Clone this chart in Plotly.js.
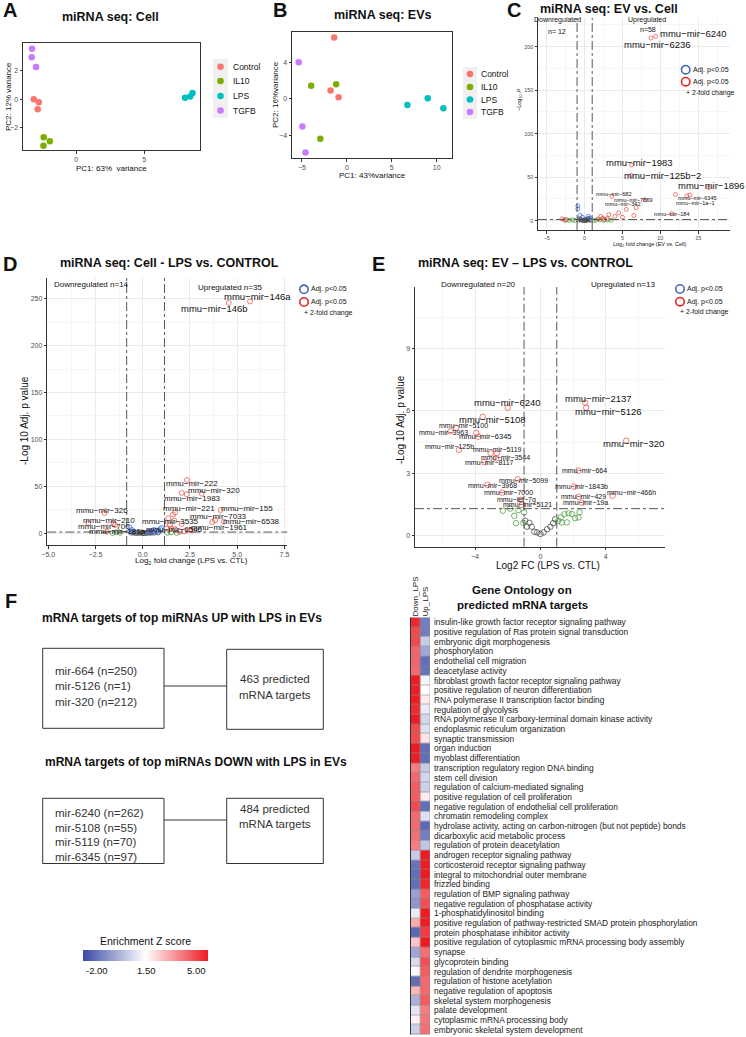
<!DOCTYPE html>
<html><head><meta charset="utf-8">
<script src="https://cdn.plot.ly/plotly-3.0.1.min.js"></script>
<style>html,body{margin:0;padding:0;background:#fff}#chart{width:746px;height:1037px}</style>
</head><body><div id="chart"></div>
<script>
// ================= DATA =================
// PCA panel A (cells)
const pcaGroupNames = ['Control','IL10','LPS','TGFB'];
const cellGroup = ['Control','Control','Control','IL10','IL10','IL10','LPS','LPS','LPS','TGFB','TGFB','TGFB'];
const cellPC1   = [-3.11,-2.74,-2.82,-2.38,-1.93,-2.40, 8.00, 8.38, 8.55,-3.24,-3.26,-2.94];
const cellPC2   = [ 0.00,-0.21,-0.70,-2.68,-2.96,-3.27, 0.10, 0.20, 0.45, 3.56, 2.96, 2.27];
// PCA panel B (EVs)
const evGroup = ['Control','Control','Control','IL10','IL10','IL10','LPS','LPS','LPS','TGFB','TGFB','TGFB'];
const evPC1   = [-1.41,-1.81,-0.92,-3.97,-1.19,-2.95, 6.74, 9.00,10.74,-5.35,-4.95,-4.60];
const evPC2   = [ 6.70, 0.88, 0.15, 1.40, 1.58,-4.40,-0.69, 0.04,-1.06, 4.00,-3.05,-5.90];

// Volcano C: EV vs Cell
const cFC  = [9.37,8.75,6.2,6.15,16.4,13.9,13.5,12.0,3.6,8.0,5.5,11.5, 6.8,3.2,4.0,2.4,6.5,1.8,2.6,-3.0,-2.4,-2.7,3.0,5.0,4.5,2.1,
              -0.9,-0.9,-0.6,0.5,-0.3,0.7,
              -2.0,-1.6,1.5,2.0,2.5,-1.3,3.0,1.2,-2.5,3.5,
              -0.8,-0.5,-0.2,0,0.3,0.6,0.8,-0.4,0.1,-0.7,0.5,0.2,-0.1,0.4];
const cLogP = [212,210,64,52,38,29.5,28.5,30,28,24,13,8, 15,7,5,3,6,2,1.5,2.2,1.4,1.0,2.5,4,9,5,
              17,13.5,6,5,4,3,
              0.5,0.8,0.6,0.9,0.4,0.3,0.7,0.5,0.3,0.5,
              0.5,1.2,0.3,0.1,0.6,1.0,0.4,0.8,1.5,2,2.5,0.2,0.7,1.8];
const cCat = ['PFC','PFC','PFC','PFC','PFC','PFC','PFC','PFC','PFC','PFC','PFC','PFC','PFC','PFC','PFC','PFC','PFC','PFC','PFC','PFC','PFC','PFC','PFC','PFC','PFC','PFC',
              'P','P','P','P','P','P',
              'FC','FC','FC','FC','FC','FC','FC','FC','FC','FC',
              'NS','NS','NS','NS','NS','NS','NS','NS','NS','NS','NS','NS','NS','NS'];
const cLabel = ['mmu−mir−6240','mmu−mir−6236','mmu−mir−1983','mmu−mir−125b−2','mmu−mir−1896','mmu−mir−6345','','mmu−mir−1a−1','mmu−mir−682','mmu−mir−7869','mmu−mir−342','mmu−mir−184'];

// Volcano D: Cell LPS vs CONTROL
const dFC = [5.68,4.55,2.34,3.12,2.06,2.33,1.71,4.13,3.83,3.68,4.3,-2.03,-1.55,-1.47,-2.88,1.35,2.6,1.5,-1.9,
             1.44,1.67,2.06,1.27,1.71,1.97,2.5,1.6,2.2,
             -0.71,-0.58,0.92,0.74,0.5,0.3,0.85,-0.65,0.6,-0.5,1.0,0.4,
             -1.2,-1.4,1.3,1.5,-1.6,1.8,
             -0.3,0,0.3,-0.5,0.5,0.2,-0.1,-0.2,0.4,0.1,-0.4,0.6,0.0,-0.6,0.8];
const dLogP = [247,245.5,56.8,42.2,43,41.6,22,24.8,14,12,12.4,21.6,10.7,8.8,10.7,16,3.0,5,1.7,
             8.8,13.4,9.9,5.3,4.3,1.7,3.5,20,2,
             6.4,3.5,4.3,2.8,2.0,1.5,1.6,2.2,3.5,1.8,5.5,1.6,
             0.6,1.0,0.5,0.9,0.3,0.4,
             0.5,0.2,0.8,0.9,1.1,0.3,1.0,0.2,0.4,0.1,0.3,0.6,0.6,0.6,0.9];
const dCat = ['PFC','PFC','PFC','PFC','PFC','PFC','PFC','PFC','PFC','PFC','PFC','PFC','PFC','PFC','PFC','PFC','PFC','PFC','PFC',
             'PFC','PFC','PFC','PFC','PFC','PFC','PFC','PFC','PFC',
             'P','P','P','P','P','P','P','P','P','P','P','P',
             'FC','FC','FC','FC','FC','FC',
             'NS','NS','NS','NS','NS','NS','NS','NS','NS','NS','NS','NS','NS','NS','NS'];
const dLabel = ['mmu−mir−146a','mmu−mir−146b','mmu−mir−222','mmu−mir−320','mmu−mir−1983','','mmu−mir−221','mmu−mir−155','mmu−mir−7033','','mmu−mir−6538','mmu−mir−326','mmu−mir−210','','mmu−mir−700','mmu−mir−3535','mmu−mir−1961','mmu−mir−6546','mmu−mir−181a'];

// Volcano E: EV LPS vs CONTROL
const eFC = [-2.0,-3.53,-5.16,-5.5,-3.92,-3.8,-4.98,-3.04,-2.67,-2.71,-3.43,2.33,-1.38,-3.24,2.06,-2.33,4.41,2.33,-1.2,2.53,-1.14,2.74,2.8,5.25,
             -2.3,-1.6,-1.49,-1.04,-1.0,-1.85,-1.35,1.1,1.31,1.62,1.25,1.72,1.92,2.12,2.33,2.39,1.47,
             -0.67,-0.53,-0.37,-0.2,0,0.2,0.41,0.61,0.78,0.9,-0.83,-0.94];
const eLogP = [6.15,5.72,5.19,5.02,4.94,4.76,4.13,3.96,3.96,3.72,3.53,3.13,2.71,2.44,2.36,2.07,1.92,1.87,1.72,1.59,1.48,6.4,6.15,4.57,
             1.2,0.96,0.6,0.62,1.12,1.3,1.23,0.72,0.63,0.64,0.88,1.08,1.04,0.84,0.88,1.12,1.03,
             0.62,0.43,0.19,0.16,0.08,0.16,0.31,0.43,0.6,0.79,0.43,0.72];
const eCat = ['PFC','PFC','PFC','PFC','PFC','PFC','PFC','PFC','PFC','PFC','PFC','PFC','PFC','PFC','PFC','PFC','PFC','PFC','PFC','PFC','PFC','PFC','PFC','PFC',
             'FC','FC','FC','FC','FC','FC','FC','FC','FC','FC','FC','FC','FC','FC','FC','FC','FC',
             'NS','NS','NS','NS','NS','NS','NS','NS','NS','NS','NS','NS'];
const eLabel = ['mmu−mir−6240','mmu−mir−5108','mmu−mir−5100','mmu−mir−3963','mmu−mir−6345','','mmu−mir−125b','mmu−mir−5119','','mmu−mir−3544','mmu−mir−8117','mmu−mir−664','mmu−mir−5099','mmu−mir−3968','mmu−mir−1843b','mmu−mir−7000','mmu−mir−466h','mmu−mir−429','mmu−let−7g','mmu−mir−19a','mmu−mir−5121','mmu−mir−2137','mmu−mir−5126','mmu−mir−320'];

const volcanoCounts = {cDown:12, cUp:58, dDown:14, dUp:35, eDown:20, eUp:13};
const fcCutC = [-1, 1], fcCutD = [-0.85, 1.15], fcCutE = [-1, 1], pCut = 1.3;

// Panel F boxes
const upMirs = ['mir-664 (n=250)','mir-5126 (n=1)','mir-320 (n=212)'];
const upTargets = 463;
const downMirs = ['mir-6240 (n=262)','mir-5108 (n=55)','mir-5119 (n=70)','mir-6345 (n=97)'];
const downTargets = 484;

// Heatmap
const goColumns = ['Down_LPS','Up_LPS'];
const goTerms = ['insulin-like growth factor receptor signaling pathway','positive regulation of Ras protein signal transduction','embryonic digit morphogenesis','phosphorylation','endothelial cell migration','deacetylase activity','fibroblast growth factor receptor signaling pathway','positive regulation of neuron differentiation','RNA polymerase II transcription factor binding','regulation of glycolysis','RNA polymerase II carboxy-terminal domain kinase activity','endoplasmic reticulum organization','synaptic transmission','organ induction','myoblast differentiation','transcription regulatory region DNA binding','stem cell division','regulation of calcium-mediated signaling','positive regulation of cell proliferation','negative regulation of endothelial cell proliferation','chromatin remodeling complex','hydrolase activity, acting on carbon-nitrogen (but not peptide) bonds','dicarboxylic acid metabolic process','regulation of protein deacetylation','androgen receptor signaling pathway','corticosteroid receptor signaling pathway','integral to mitochondrial outer membrane','frizzled binding','regulation of BMP signaling pathway','negative regulation of phosphatase activity','1-phosphatidylinositol binding','positive regulation of pathway-restricted SMAD protein phosphorylation','protein phosphatase inhibitor activity','positive regulation of cytoplasmic mRNA processing body assembly','synapse','glycoprotein binding','regulation of dendrite morphogenesis','regulation of histone acetylation','negative regulation of apoptosis','skeletal system morphogenesis','palate development','cytoplasmic mRNA processing body','embryonic skeletal system development'];
const goDown = [4.8,4.3,4.3,3.9,3.9,3.8,5.0,5.0,5.0,4.8,5.0,4.3,4.3,5.0,5.0,3.5,3.8,4.0,4.0,4.3,3.8,3.8,3.7,3.5,0.5,-1.2,-1.3,-1.3,-0.3,-0.5,1.1,2.8,-1.4,2.4,-0.2,0.8,1.4,-1.3,2.6,0.0,1.0,1.7,0.6];
const goUp   = [-1.0,-1.0,0.5,-0.2,-1.3,-1.2,1.3,1.5,1.8,1.1,0.7,0.9,1.9,-1.3,-1.3,0.5,0.7,0.6,1.8,-1.3,0.9,-1.4,-1.0,0.4,5.0,5.0,5.0,4.8,4.0,4.2,5.0,5.0,4.5,5.0,3.7,4.2,4.0,3.8,3.8,4.0,3.5,3.6,3.7];
const zTickVals = [-2.0, 1.5, 5.0];

// ================= LAYOUT HELPERS =================
const W = 746, H = 1037;
const px = v => v / W;
const py = v => 1 - v / H;
const FONT = 'Liberation Sans, Arial, sans-serif';
const shapes = [], annotations = [], traces = [];

function txt(x, y, text, size, opt) {
  opt = opt || {};
  annotations.push(Object.assign({
    xref: 'paper', yref: 'paper', x: px(x), y: py(y), text: text, showarrow: false,
    xanchor: 'center', yanchor: 'middle', font: {family: FONT, size: size, color: opt.color || '#111'}
  }, opt.extra || {}));
}
function rect(x0, y0, x1, y1, line, fill, layer) {
  shapes.push({type: 'rect', xref: 'paper', yref: 'paper', x0: px(x0), x1: px(x1), y0: py(y1), y1: py(y0),
    line: line || {color: '#333', width: 1}, fillcolor: fill || 'rgba(0,0,0,0)', layer: layer || 'above'});
}
function circ(cx, cy, r, color, width, fill) {
  shapes.push({type: 'circle', xref: 'paper', yref: 'paper', x0: px(cx - r), x1: px(cx + r), y0: py(cy + r), y1: py(cy - r),
    line: {color: color, width: width}, fillcolor: fill || 'rgba(0,0,0,0)'});
}
function hline(x0, x1, y, color, width) {
  shapes.push({type: 'line', xref: 'paper', yref: 'paper', x0: px(x0), x1: px(x1), y0: py(y), y1: py(y), line: {color: color, width: width}});
}

// ================= PCA PANELS =================
const groupColors = ['#F8766D','#7CAE00','#00BFC4','#C77CFF'];
function pcaTraces(groups, pc1, pc2, xa, ya) {
  pcaGroupNames.forEach((g, gi) => {
    const idx = groups.map((v, i) => v === g ? i : -1).filter(i => i >= 0);
    traces.push({type: 'scatter', mode: 'markers', xaxis: xa, yaxis: ya, showlegend: false,
      x: idx.map(i => pc1[i]), y: idx.map(i => pc2[i]),
      marker: {color: groupColors[gi], size: 6.5}});
  });
}
pcaTraces(cellGroup, cellPC1, cellPC2, 'x', 'y');
pcaTraces(evGroup, evPC1, evPC2, 'x2', 'y2');

function pcaLegend(keyX, textX, ys, bg) {
  rect(bg[0], bg[1], bg[2], bg[3], {width: 0}, '#F0F0F0', 'below');
  pcaGroupNames.forEach((g, i) => {
    circ(keyX, ys[i], 3.3, groupColors[i], 0, groupColors[i]);
    txt(textX, ys[i], g, 8.5, {extra: {xanchor: 'left'}});
  });
}
pcaLegend(220.5, 230.5, [66.7, 81, 96, 110.5], [213, 59, 228, 118]);
pcaLegend(470, 478.5, [74, 87, 99.5, 112], [463, 67, 477, 119]);

// ================= VOLCANO =================
const catStyle = {
  NS:  'rgba(70,70,70,0.75)',
  FC:  'rgba(60,150,50,0.7)',
  P:   'rgba(65,105,225,0.75)',
  PFC: 'rgba(235,40,30,0.6)'
};
function volcano(fc, lp, cat, xa, ya, size) {
  ['NS','FC','P','PFC'].forEach(c => {
    const idx = cat.map((v, i) => v === c ? i : -1).filter(i => i >= 0);
    traces.push({type: 'scatter', mode: 'markers', xaxis: xa, yaxis: ya, showlegend: false,
      x: idx.map(i => fc[i]), y: idx.map(i => lp[i]),
      marker: {symbol: 'circle-open', size: size, color: catStyle[c], line: {width: 1}}});
  });
}
volcano(cFC, cLogP, cCat, 'x3', 'y3', 4);
volcano(dFC, dLogP, dCat, 'x4', 'y4', 5);
volcano(eFC, eLogP, eCat, 'x5', 'y5', 5.5);

// label placement (pixel shifts, font size)
const cLabPos = [[38,3,9.5],[7,-6,9.5],[8,3,9.5],[31,0,9.5],[3,2,9.5],[8,-3,5.5],null,[20,-8,5.5],[2,2,5.5],[-12,0,5.5],[-4,5,5.5],[0,0,5.5]];
const dLabPos = [[7,5,9.5],[-14,-6,9.5],[5,-4,8],[12,3,8],[11,-6,8],null,[14,4,8],[26,1,8],[3.5,4,8],null,[28,0,8],[-2,3,8],[-4,3,8],null,[16,-3,8],[2,-3,8],[28,3,8],[3,-1,8],[11,0,8]];
const eLabPos = [[0,5,9.5],[10,-3,9.5],[7,2,7],[-7,-1,7],[9.5,-4,7.5],null,[-9,3,7],[7,4,7],null,[9,1,7],[5,0,7],[6,0,7],[6,-1,7],[5.5,-1,7],[7,0,7],[6,0,7],[19,3,7],[5,0,7],[-4,0,7],[4,0,7],[6,0,7],[13,4,9.5],[22,-4,9.5],[7.5,-3,9.5]];
function labels(fc, lp, labs, pos, xa, ya) {
  labs.forEach((l, i) => {
    if (!l || !pos[i]) return;
    annotations.push({xref: xa, yref: ya, x: fc[i], y: lp[i], text: l, showarrow: false,
      xshift: pos[i][0], yshift: pos[i][1], font: {family: FONT, size: pos[i][2], color: '#111'}});
  });
}
labels(cFC, cLogP, cLabel, cLabPos, 'x3', 'y3');
labels(dFC, dLogP, dLabel, dLabPos, 'x4', 'y4');
labels(eFC, eLogP, eLabel, eLabPos, 'x5', 'y5');

function cutLines(xa, ya, fcs) {
  fcs.forEach(v => shapes.push({type: 'line', xref: xa, yref: ya + ' domain', x0: v, x1: v, y0: 0, y1: 1,
    line: {color: '#444', width: 0.9, dash: 'dashdot'}}));
  shapes.push({type: 'line', xref: xa + ' domain', yref: ya, x0: 0, x1: 1, y0: pCut, y1: pCut,
    line: {color: '#444', width: 0.9, dash: 'dashdot'}});
}
cutLines('x3', 'y3', fcCutC);
cutLines('x4', 'y4', fcCutD);
cutLines('x5', 'y5', fcCutE);

function sigLegend(cx, y1, y2, y3, tx, fs) {
  circ(cx, y1, 4.2, '#4466BB', 1.6);
  circ(cx, y2, 4.2, '#E82222', 1.6);
  txt(tx, y1, 'Adj. p<0.05', fs, {extra: {xanchor: 'left'}});
  txt(tx, y2, 'Adj. p<0.05', fs, {extra: {xanchor: 'left'}});
  txt(cx - 2, y3, '+ 2-fold change', fs, {extra: {xanchor: 'left'}});
}
sigLegend(685.7, 69.7, 81.7, 92.7, 690.5, 7);
sigLegend(304, 289.3, 302, 313.5, 308.5, 7);
sigLegend(680, 289, 301.7, 312.5, 684.5, 7);

// region labels
txt(557, 20, 'Downregulated', 7);
txt(557, 32, 'n= ' + volcanoCounts.cDown, 7);
txt(647, 20, 'Upregulated', 7);
txt(648, 30, 'n=' + volcanoCounts.cUp, 7);
txt(91.5, 284, 'Downregulated n=' + volcanoCounts.dDown, 8);
txt(230, 287.3, 'Upregulated n=' + volcanoCounts.dUp, 8);
txt(478.5, 284, 'Downregulated n=' + volcanoCounts.eDown, 8);
txt(622.5, 284, 'Upregulated n=' + volcanoCounts.eUp, 8);

// ================= TITLES, LETTERS, AXIS TITLES =================
const bold = s => '<b>' + s + '</b>';
txt(10, 10, bold('A'), 20);
txt(279.5, 10, bold('B'), 20);
txt(513.5, 9.5, bold('C'), 20);
txt(10, 264, bold('D'), 20);
txt(378, 264, bold('E'), 20);
txt(11, 601, bold('F'), 20);
txt(111, 17, bold('miRNA seq: Cell'), 12.5);
txt(383, 15, bold('miRNA seq: EVs'), 12.5);
txt(609, 8.5, bold('miRNA seq: EV vs. Cell'), 12.5);
txt(169, 262.7, bold('miRNA seq: Cell - LPS vs. CONTROL'), 12.5);
txt(525, 263.3, bold('miRNA seq: EV – LPS vs. CONTROL'), 12.5);

txt(112, 168, 'PC1: 63%  variance', 8);
txt(8, 97, 'PC2: 12% variance', 8, {extra: {textangle: -90}});
txt(372, 175.5, 'PC1: 43%variance', 8);
txt(275, 95, 'PC2: 16%variance', 8, {extra: {textangle: -90}});
txt(650, 244, 'Log<sub>2</sub> fold change (EV vs. Cell)', 5.5);
txt(519, 100, '−Log<sub>10</sub> <i>P</i>', 5.5, {extra: {textangle: -90}});
txt(191.7, 560.7, 'Log<sub>2</sub> fold change (LPS vs. CTL)', 8);
txt(24, 421, '-Log 10 Adj. p value', 10, {extra: {textangle: -90}});
txt(548.3, 565, 'Log2 FC (LPS vs. CTL)', 10);
txt(400, 420, '-Log 10 Adj. p value', 10, {extra: {textangle: -90}});

// ================= PANEL F =================
txt(40, 618, bold('mRNA targets of top miRNAs UP with LPS in EVs'), 12, {extra: {xanchor: 'left'}});
txt(43, 761.7, bold('mRNA targets of top miRNAs DOWN with LPS in EVs'), 12, {extra: {xanchor: 'left'}});
// boxes (upper)
rect(42.7, 648.3, 164, 728.3);
rect(226.7, 649.3, 323.3, 729.3);
hline(164, 226.7, 686, '#333', 1);
upMirs.forEach((m, i) => txt(53.3, 671 + i * 15.3, m, 11.5, {color: '#333', extra: {xanchor: 'left'}}));
txt(275, 679.3, upTargets + ' predicted', 11.5, {color: '#333'});
txt(275, 695, 'mRNA targets', 11.5, {color: '#333'});
// boxes (lower)
rect(42.7, 798.3, 164, 863.5);
rect(226.7, 798.3, 323.3, 863.5);
hline(164, 226.7, 820, '#333', 1);
downMirs.forEach((m, i) => txt(53.3, 813 + i * 14.6, m, 11.5, {color: '#333', extra: {xanchor: 'left'}}));
txt(275, 809.3, downTargets + ' predicted', 11.5, {color: '#333'});
txt(275, 824.3, 'mRNA targets', 11.5, {color: '#333'});

// colour scale labels
txt(145.5, 941, 'Enrichment Z score', 10.5);
txt(97, 970, zTickVals[0].toFixed(2), 9.5);
txt(146, 970, zTickVals[1].toFixed(2), 9.5);
txt(196, 970, zTickVals[2].toFixed(2), 9.5);

// ================= HEATMAP =================
txt(522, 590, bold('Gene Ontology on'), 11.5);
txt(522, 605, bold('predicted mRNA targets'), 11.5);
rect(410.5, 617.5, 430, 1034.6, {width: 0}, '#8a8a8a', 'below');
traces.push({type: 'heatmap', xaxis: 'x6', yaxis: 'y6', x: goColumns, y: goTerms,
  z: goTerms.map((t, i) => [goDown[i], goUp[i]]), zmin: -2, zmax: 5, xgap: 0.6, ygap: 0.6,
  colorscale: [[0, '#3A4AA6'], [0.5, '#FFFFFF'], [1, '#EE1B22']],
  colorbar: {orientation: 'h', x: px(145.5), xanchor: 'center', y: py(950), yanchor: 'top',
    len: 125, lenmode: 'pixels', thickness: 11, thicknessmode: 'pixels', outlinewidth: 0,
    showticklabels: false, ticks: '', xpad: 0, ypad: 0}});
shapes.push({type: 'line', xref: 'paper', yref: 'paper', x0: px(410.5), x1: px(410.5), y0: py(1034.6), y1: py(617.5), line: {color: '#333', width: 1}});

// ================= AXES =================
const tickF = s => ({family: FONT, size: s, color: '#4d4d4d'});
const boxAxis = (dom, range, vals) => ({domain: dom, range: range, tickvals: vals, ticks: 'outside', ticklen: 2.5,
  tickcolor: '#333', tickfont: tickF(7), showline: true, mirror: true, linecolor: '#333', linewidth: 1,
  showgrid: false, zeroline: false});
const volAxis = (dom, range, dtick, minor, fs, fmt) => ({domain: dom, range: range, dtick: dtick, tick0: 0,
  tickformat: fmt || '', ticks: 'outside', ticklen: 2.5, tickcolor: '#333', tickfont: tickF(fs),
  showline: true, linecolor: '#333', linewidth: 1, showgrid: true, gridcolor: '#E6E6E6', gridwidth: 0.8,
  minor: {dtick: minor, tick0: 0, showgrid: true, gridcolor: '#F0F0F0', gridwidth: 0.6}, zeroline: false});

const layout = {
  width: W, height: H, margin: {l: 0, r: 0, t: 0, b: 0}, showlegend: false,
  paper_bgcolor: '#fff', plot_bgcolor: '#fff', font: {family: FONT},
  xaxis:  Object.assign(boxAxis([px(23), px(200)], [-3.9, 9.1], [0, 5]), {anchor: 'y'}),
  yaxis:  Object.assign(boxAxis([py(150), py(43)], [-3.57, 3.96], [-2, 0, 2]), {anchor: 'x'}),
  xaxis2: Object.assign(boxAxis([px(292), px(452)], [-6.1, 11.7], [-5, 0, 5, 10]), {anchor: 'y2'}),
  yaxis2: Object.assign(boxAxis([py(158), py(32)], [-6.5, 7.3], [-4, 0, 4]), {anchor: 'x2'}),
  xaxis3: Object.assign(volAxis([px(538), px(730)], [-6.16, 19.2], 5, 2.5, 5.5), {anchor: 'y3'}),
  yaxis3: Object.assign(volAxis([py(230), py(18)], [-10.7, 233], 50, 25, 5.5), {anchor: 'x3'}),
  xaxis4: Object.assign(volAxis([px(47.3), px(287.3)], [-5.05, 7.65], 2.5, 1.25, 7, '.1f'), {anchor: 'y4'}),
  yaxis4: Object.assign(volAxis([py(545), py(278)], [-12.5, 272], 50, 25, 7), {anchor: 'x4'}),
  xaxis5: Object.assign(volAxis([px(415), px(665)], [-7.67, 7.62], 4, 2, 7), {anchor: 'y5'}),
  yaxis5: Object.assign(volAxis([py(546.7), py(287)], [-0.53, 11.96], 3, 1.5, 7), {anchor: 'x5'}),
  xaxis6: {domain: [px(410.5), px(430)], anchor: 'y6', side: 'top', tickangle: -90, ticks: '',
    tickmode: 'array', tickvals: goColumns, ticktext: goColumns,
    tickfont: {family: FONT, size: 8, color: '#222'}, showgrid: false, zeroline: false, showline: false, type: 'category'},
  yaxis6: {domain: [py(1034.6), py(617.5)], anchor: 'x6', side: 'right', autorange: 'reversed', ticks: '',
    tickmode: 'array', tickvals: goTerms, ticktext: goTerms,
    tickfont: {family: FONT, size: 8.4, color: '#222'}, showgrid: false, zeroline: false, showline: false, type: 'category',
    ticklabelstandoff: 3},
  shapes: shapes, annotations: annotations
};

Plotly.newPlot('chart', traces, layout, {staticPlot: true, displayModeBar: false});
</script></body></html>
